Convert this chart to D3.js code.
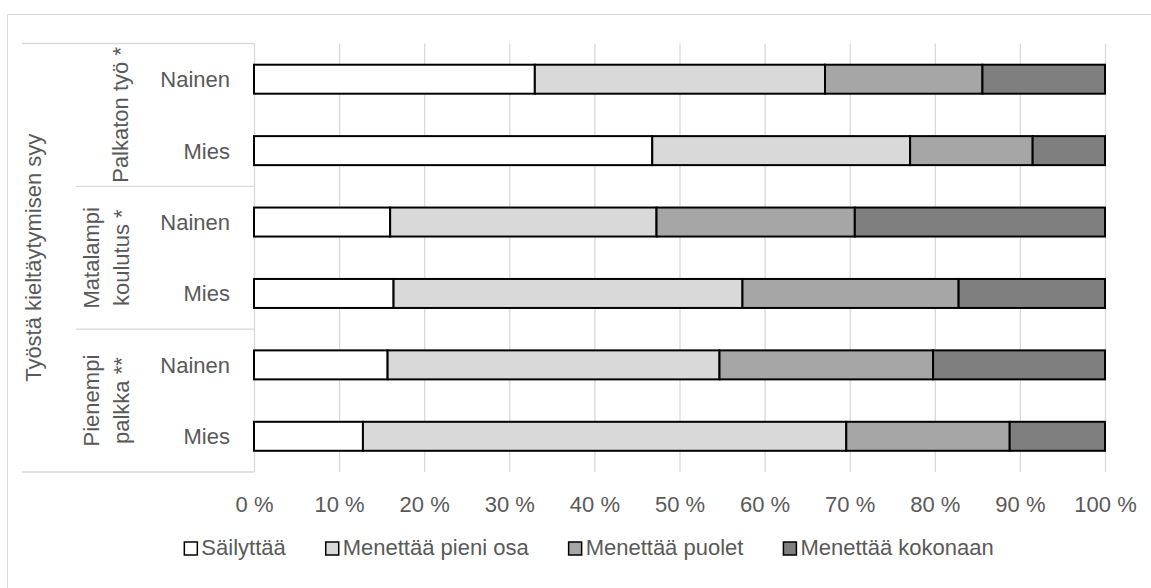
<!DOCTYPE html>
<html>
<head>
<meta charset="utf-8">
<script src="https://cdn.jsdelivr.net/npm/d3@7"></script>
<style>
  body { margin: 0; background: #ffffff; }
  text { font-family: "Liberation Sans", Arial, sans-serif; fill: #595959; }
</style>
</head>
<body>
<svg id="chart" width="1151" height="588"></svg>
<script>
// Reasons for refusing work (grouped) and respondent gender
const groupLabels = [["Palkaton työ *"], ["Matalampi", "koulutus *"], ["Pienempi", "palkka **"]];
const genders = ["Nainen", "Mies"];
const axisTitle = "Työstä kieltäytymisen syy";

// Share of respondents (%) per row, rows ordered group by group, Nainen before Mies
const sailyttaa = [33.0, 46.8, 16.0, 16.4, 15.7, 12.8];
const menettaaPieniOsa = [34.1, 30.3, 31.3, 41.0, 39.0, 56.8];
const menettaaPuolet = [18.5, 14.4, 23.3, 25.4, 25.1, 19.2];
const menettaaKokonaan = [14.4, 8.5, 29.4, 17.2, 20.2, 11.2];

const seriesNames = ["Säilyttää", "Menettää pieni osa", "Menettää puolet", "Menettää kokonaan"];
const seriesColors = ["#ffffff", "#d9d9d9", "#a6a6a6", "#7f7f7f"];
const tickValues = [0, 10, 20, 30, 40, 50, 60, 70, 80, 90, 100];

const svg = d3.select("#chart");
const W = 1151, H = 588;
const plot = { left: 254, right: 1105, top: 43.5, bottom: 472 };
const tableLeft = 22, groupColLeft = 76;
const fontSize = 22;

// Outer chart frame (top and left edges fall inside the canvas)
svg.append("path")
  .attr("d", `M7.5,${H} V14.5 H${W}`)
  .attr("fill", "none")
  .attr("stroke", "#d9d9d9")
  .attr("stroke-width", 1);

// Row keys
const rows = [];
groupLabels.forEach((g, gi) => genders.forEach((s, si) => rows.push({ gi, si, key: gi + "-" + si, gender: s })));
const seriesArrays = [sailyttaa, menettaaPieniOsa, menettaaPuolet, menettaaKokonaan];
const table = rows.map((r, i) => {
  const o = { key: r.key };
  seriesNames.forEach((n, k) => { o[n] = seriesArrays[k][i]; });
  return o;
});

const x = d3.scaleLinear().domain([0, 100]).range([plot.left, plot.right]);
const y = d3.scaleBand()
  .domain(rows.map(r => r.key))
  .range([plot.top, plot.bottom])
  .paddingInner(0.594)
  .paddingOuter(0.297);

// Gridlines and percentage tick labels
const xAxis = d3.axisBottom(x)
  .tickValues(tickValues)
  .tickFormat(d => d + " %")
  .tickSize(-(plot.bottom - plot.top))
  .tickPadding(24);
const gx = svg.append("g")
  .attr("transform", `translate(0,${plot.bottom})`)
  .call(xAxis);
gx.select(".domain").remove();
gx.selectAll(".tick line").attr("stroke", "#d9d9d9").attr("stroke-width", 1.3);
gx.selectAll(".tick text")
  .attr("font-size", fontSize)
  .attr("font-family", "Liberation Sans, Arial, sans-serif")
  .attr("fill", "#595959");

// Category table lines (left side)
const groupBounds = groupLabels.map((g, gi) => {
  const top = gi === 0 ? plot.top : (y(gi - 1 + "-1") + y.bandwidth() + y(gi + "-0")) / 2;
  const bot = gi === groupLabels.length - 1 ? plot.bottom : (y(gi + "-1") + y.bandwidth() + y(gi + 1 + "-0")) / 2;
  return { top, bot };
});
svg.append("line")
  .attr("x1", tableLeft).attr("x2", plot.left)
  .attr("y1", plot.top).attr("y2", plot.top)
  .attr("stroke", "#d9d9d9").attr("stroke-width", 1.3);
svg.append("line")
  .attr("x1", tableLeft).attr("x2", plot.left)
  .attr("y1", plot.bottom).attr("y2", plot.bottom)
  .attr("stroke", "#d9d9d9").attr("stroke-width", 1.3);
groupBounds.slice(1).forEach(b => {
  svg.append("line")
    .attr("x1", groupColLeft).attr("x2", plot.left)
    .attr("y1", b.top).attr("y2", b.top)
    .attr("stroke", "#d9d9d9").attr("stroke-width", 1.3);
});

// Stacked bars
const stack = d3.stack().keys(seriesNames);
const layers = stack(table);
svg.append("g")
  .selectAll("g")
  .data(layers)
  .join("g")
  .attr("fill", (d, i) => seriesColors[i])
  .selectAll("rect")
  .data(d => d)
  .join("rect")
  .attr("x", d => x(d[0]))
  .attr("width", d => x(d[1]) - x(d[0]))
  .attr("y", d => y(d.data.key))
  .attr("height", y.bandwidth())
  .attr("stroke", "#000000")
  .attr("stroke-width", 2);

// Gender labels
svg.append("g")
  .selectAll("text")
  .data(rows)
  .join("text")
  .attr("x", 230)
  .attr("y", d => y(d.key) + y.bandwidth() / 2)
  .attr("dy", "0.36em")
  .attr("text-anchor", "end")
  .attr("font-size", fontSize)
  .text(d => d.gender);

// Group labels (rotated)
groupLabels.forEach((lines, gi) => {
  const cy = (groupBounds[gi].top + groupBounds[gi].bot) / 2;
  const baselines = lines.length === 1 ? [128] : [99, 129];
  lines.forEach((ln, li) => {
    svg.append("text")
      .attr("transform", `translate(${baselines[li]},${cy}) rotate(-90)`)
      .attr("text-anchor", "middle")
      .attr("font-size", fontSize)
      .text(ln);
  });
});

// Outer axis title
svg.append("text")
  .attr("transform", `translate(41,${(plot.top + plot.bottom) / 2}) rotate(-90)`)
  .attr("text-anchor", "middle")
  .attr("font-size", fontSize)
  .text(axisTitle);

// Legend
const legend = svg.append("g");
const sw = 13, gapText = 4, gapItem = 40, legendBaseline = 555, legendCenter = 589;
const items = legend.selectAll("g")
  .data(seriesNames)
  .join("g");
items.append("rect")
  .attr("width", sw).attr("height", sw)
  .attr("y", legendBaseline - sw)
  .attr("fill", (d, i) => seriesColors[i])
  .attr("stroke", "#000000")
  .attr("stroke-width", 1.5);
items.append("text")
  .attr("x", sw + gapText)
  .attr("y", legendBaseline)
  .attr("font-size", fontSize)
  .text(d => d);
let widths = [];
items.each(function () { widths.push(sw + gapText + d3.select(this).select("text").node().getComputedTextLength()); });
const total = d3.sum(widths) + gapItem * (widths.length - 1);
let cx = legendCenter - total / 2;
items.attr("transform", (d, i) => {
  const t = `translate(${cx},0)`;
  cx += widths[i] + gapItem;
  return t;
});
</script>
</body>
</html>
